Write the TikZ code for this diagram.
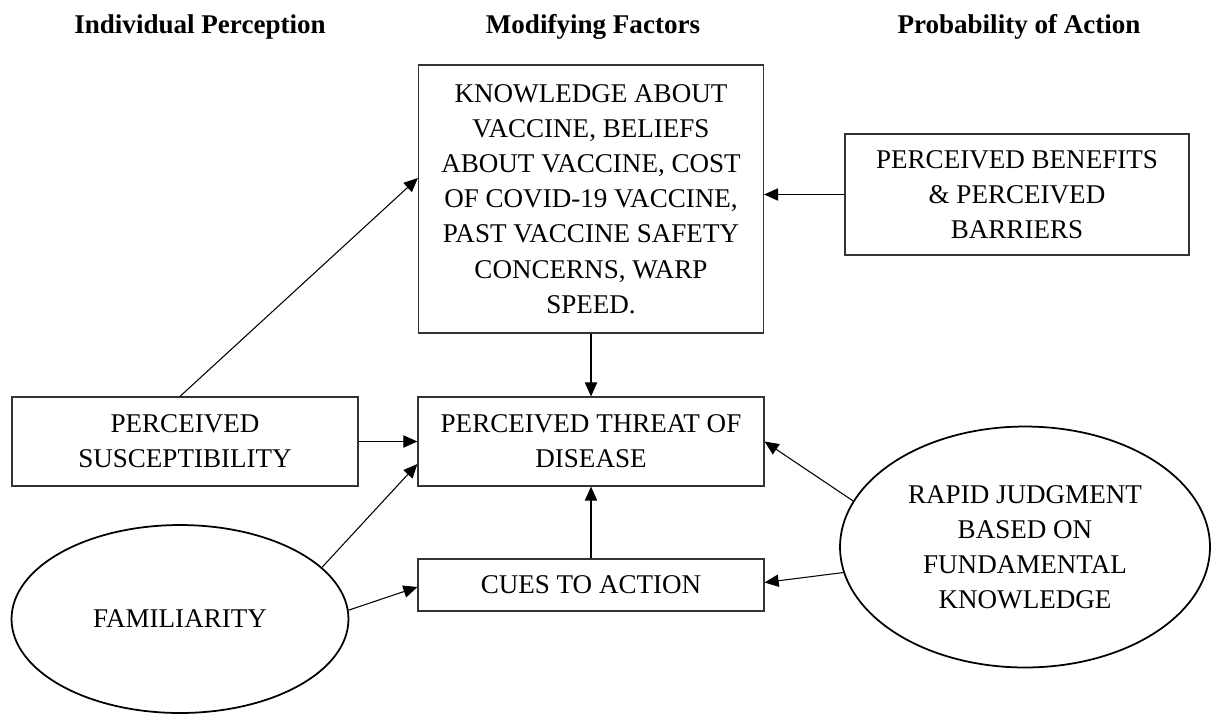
\documentclass[tikz,border=0pt]{standalone}
\usepackage{fontspec}
\setmainfont{Liberation Serif}
\usetikzlibrary{shapes.geometric,arrows.meta}

\begin{document}
\begin{tikzpicture}[
	x=0.02cm, y=-0.02cm,
	heading/.style={ font=\fontsize{15.4}{18}\selectfont\bfseries },
	box/.style={ rectangle, draw=black!80, line width=0.7pt, align=center, inner sep=0pt, font=\fontsize{15.4}{20}\selectfont },
	oval/.style={ ellipse, draw, line width=1pt, align=center, inner sep=0pt, font=\fontsize{15.4}{20}\selectfont },
	arr/.style={ line width=0.6pt, -{Triangle[length=8pt,width=7pt]} }
]

\useasboundingbox (0,0) rectangle (1212,714);

% column headings
\node[heading] at (200,27) (hind) {Individual Perception};
\node[heading] at (593,27) (hmod) {Modifying Factors};
\node[heading] at (1019,27) (hact) {Probability of Action};

% boxes
\node[box, minimum width=6.9cm, minimum height=5.36cm] at (591,199) (know)
	{KNOWLEDGE ABOUT\\VACCINE, BELIEFS\\ABOUT VACCINE, COST\\OF COVID-19 VACCINE,\\PAST VACCINE SAFETY\\CONCERNS, WARP\\SPEED.};
\node[box, minimum width=6.88cm, minimum height=2.42cm] at (1017,194.5) (bene)
	{PERCEIVED BENEFITS\\\& PERCEIVED\\BARRIERS};
\node[box, minimum width=6.92cm, minimum height=1.78cm] at (185,441.5) (susc)
	{PERCEIVED\\SUSCEPTIBILITY};
\node[box, minimum width=6.92cm, minimum height=1.78cm] at (591,441.5) (threat)
	{PERCEIVED THREAT OF\\DISEASE};
\node[box, minimum width=6.92cm, minimum height=1.04cm] at (591,585) (cues)
	{CUES TO ACTION};

% ovals
\node[oval, minimum width=6.74cm, minimum height=3.76cm] at (180,619) (fam) {FAMILIARITY};
\node[oval, minimum width=7.4cm, minimum height=4.82cm] at (1025,547) (rapid)
	{RAPID JUDGMENT\\BASED ON\\FUNDAMENTAL\\KNOWLEDGE};

% connectors
\draw[arr] ([xshift=-0.1cm]susc.north) to ([yshift=0.42cm]know.west);
\draw[arr] (bene.west) to (know.east |- bene.west);
\draw[arr] (know.south) to (know.south |- threat.north);
\draw[arr] (susc.east) to (threat.west);
\draw[arr] (fam.20) to ([yshift=-0.45cm]threat.west);
\draw[arr] (fam.3) to ([yshift=-0.04cm]cues.west);
\draw[arr] (cues.north) to (cues.north |- threat.south);
\draw[arr] (rapid.165) to (threat.east);
\draw[arr] (rapid.188) to ([yshift=0.05cm]cues.east);

\end{tikzpicture}
\end{document}
